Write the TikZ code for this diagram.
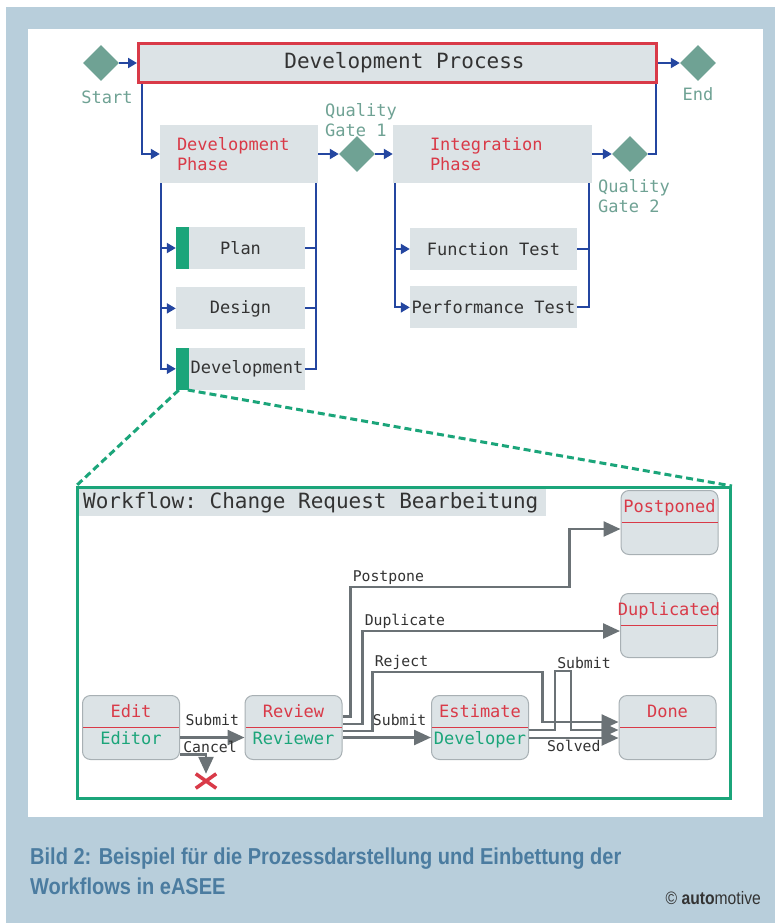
\documentclass[tikz,border=0pt]{standalone}
\usepackage{fontspec}
\setmonofont{DejaVu Sans Mono}
\newfontfamily\capfont[FakeStretch=0.87]{Liberation Sans}
\usetikzlibrary{positioning,shapes.geometric,shapes.misc,arrows.meta,calc}

\definecolor{bgblue}{HTML}{B8CEDB}
\definecolor{boxgrey}{HTML}{DCE3E6}
\definecolor{procred}{HTML}{D93A48}
\definecolor{flowblue}{HTML}{2446A0}
\definecolor{gateteal}{HTML}{6FA294}
\definecolor{bargreen}{HTML}{1BA57A}
\definecolor{wfgrey}{HTML}{6B7276}
\definecolor{stateline}{HTML}{A8B0B4}
\definecolor{textdark}{HTML}{333333}
\definecolor{captionblue}{HTML}{4B7CA0}

\begin{document}
\begin{tikzpicture}[
    x=1pt, y=-1pt,
    gate/.style={diamond, fill=gateteal, minimum width=36pt, minimum height=36pt, inner sep=0pt},
    gatelabel/.style={font=\ttfamily\fontsize{17}{20}\selectfont, text=gateteal, align=left, inner sep=0pt},
    phase/.style={fill=boxgrey, minimum height=58pt, inner xsep=17pt, text width=124pt, align=left, font=\ttfamily\fontsize{17}{20}\selectfont, text=procred},
    task/.style={fill=boxgrey, minimum width=129pt, minimum height=42pt, inner sep=0pt, font=\ttfamily\fontsize{17}{20}\selectfont, text=textdark},
    flow/.style={-{Triangle[length=9pt,width=10pt]}, flowblue, line width=2pt},
    rail/.style={flowblue, line width=2pt},
    linkdash/.style={bargreen, line width=3pt, dash pattern=on 7pt off 4pt},
    state/.style={rectangle, rounded corners=8pt, draw=stateline, fill=boxgrey, line width=1pt, minimum width=97pt, minimum height=64pt},
    stsep/.style={procred, line width=1pt},
    stname/.style={font=\ttfamily\fontsize{17}{20}\selectfont, text=procred, inner sep=0pt, text height=12pt, text depth=3.5pt},
    strole/.style={font=\ttfamily\fontsize{17}{20}\selectfont, text=bargreen, inner sep=0pt, text height=12pt, text depth=3.5pt},
    trans/.style={-{Triangle[length=17pt,width=15pt]}, wfgrey, line width=2.5pt},
    translabel/.style={font=\ttfamily\fontsize{14.8}{17}\selectfont, text=textdark, inner sep=1pt}
]
\useasboundingbox (0,0) rectangle (775,923);
\fill[bgblue] (6,7) rectangle (775,923);
\fill[white] (28,29) rectangle (763,817);

% Process level
\node[draw=procred, line width=3pt, fill=boxgrey, minimum width=518pt, minimum height=39pt,
      font=\ttfamily\fontsize{21}{25}\selectfont, text=textdark] (devproc) at (397.5,63) {\hspace*{14pt}Development Process};
\node[gate] (start) at (101,63) {};
\node[gate] (end) at (698,63) {};
\node[gatelabel, below=9pt of start, xshift=6pt] (startlbl) {Start};
\node[gatelabel, below=6pt of end] (endlbl) {End};

% Phases
\node[phase] (devphase) at (239,154) {Development\\Phase};
\node[gate] (qg1) at (357,154) {};
\node[phase, inner xsep=37pt, text width=125pt] (intphase) at (492.5,154) {Integration\\Phase};
\node[gate] (qg2) at (630,154) {};
\node[gatelabel, anchor=west] (qg1lbl) at (325,120) {Quality\\Gate 1};
\node[gatelabel, anchor=west] (qg2lbl) at (598,196) {Quality\\Gate 2};

\draw[flow] (start.east) -- (devproc.west);
\draw[flow] (devproc.east) -- (end.west);
\draw[flow] ([xshift=4.5pt]devproc.south west) |- (devphase.west);
\draw[flow] (devphase.east) -- (qg1.west);
\draw[flow] (qg1.east) -- (intphase.west);
\draw[flow] (intphase.east) -- (qg2.west);
\draw[rail] (qg2.east) -| ([xshift=-2pt]devproc.south east);

% Tasks
\node[task] (plan) at (240.5,248) {Plan};
\node[task, below=18pt of plan] (design) {Design};
\node[task, below=18pt of design] (devtask) {\hspace*{13pt}Development};
\fill[bargreen] (plan.north west) rectangle ([xshift=13pt]plan.south west);
\fill[bargreen] (devtask.north west) rectangle ([xshift=13pt]devtask.south west);

\node[task, minimum width=167pt] (functest) at (493.5,249) {Function Test};
\node[task, minimum width=167pt, below=16pt of functest] (perftest) {Performance Test};

\foreach \t in {plan,design,devtask} {
  \draw[flow] ([xshift=1pt]devphase.south west) |- (\t.west);
  \draw[rail] (\t.east) -| ([xshift=-2pt]devphase.south east);
}
\foreach \t in {functest,perftest} {
  \draw[flow] ([xshift=2pt]intphase.south west) |- (\t.west);
  \draw[rail] (\t.east) -| ([xshift=-3pt]intphase.south east);
}

% Workflow detail
\node[draw=bargreen, line width=3pt, minimum width=653pt, minimum height=311pt, inner sep=0pt] (wf) at (404,643) {};
\draw[linkdash] ([xshift=3pt]devtask.south west) -- (wf.north west);
\draw[linkdash] ([xshift=12pt]devtask.south west) -- (wf.north east);
\node[fill=boxgrey, anchor=north west, inner xsep=4pt, minimum height=27pt,
      font=\ttfamily\fontsize{21}{25}\selectfont, text=textdark] (wftitle) at ([xshift=3pt,yshift=-3pt]wf.north west) {Workflow: Change Request Bearbeitung\hspace*{4pt}};

\node[state] (edit) at (131,727.5) {};
\node[state] (review) at (293.5,727.5) {};
\node[state] (estimate) at (480,727.5) {};
\node[state] (done) at (667.5,727.5) {};
\node[state] (postponed) at (669.5,522.5) {};
\node[state] (duplicated) at (669,625.5) {};

\foreach \s/\top/\role in {edit/Edit/Editor, review/Review/Reviewer, estimate/Estimate/Developer,
                           done/Done/, postponed/Postponed/, duplicated/Duplicated/} {
  \draw[stsep] ([xshift=1pt]\s.west) -- ([xshift=-1pt]\s.east);
  \node[stname] (\s-name) at ($(\s.north)!0.55!(\s.center)$) {\top};
  \node[strole] (\s-role) at ($(\s.center)!0.4!(\s.south)$) {\role};
}

\node[cross out, draw=procred, line width=3.5pt, minimum width=17pt, minimum height=11pt, inner sep=0pt] (cancelx) at (206,781) {};

% Transitions
\draw[trans] ([yshift=-10pt]edit.east) -- node[translabel, above=10pt] {Submit} ([yshift=-10pt]review.west);
\draw[trans] ([yshift=-27pt]edit.east) -| node[translabel, pos=0.5, anchor=south, xshift=4pt] {Cancel} (cancelx.north);
\draw[trans] ([yshift=-10pt]review.east) -- node[translabel, pos=0.646, above=10pt] {Submit} ([yshift=-10pt]estimate.west);
\draw[trans] ([yshift=11pt]review.east) -- ++(8,0) -- ++(0,-129.5) node[translabel, anchor=south west] {Postpone}
    -| ([xshift=-51pt,yshift=-6.5pt]postponed.west) -- ([yshift=-6.5pt]postponed.west);
\draw[trans] ([yshift=3.5pt]review.east) -- ++(20,0) |- node[translabel, pos=0.5, anchor=south west] {Duplicate}
    ([yshift=-5.5pt]duplicated.west);
\draw[trans] ([yshift=-3.5pt]review.east) -- ++(30,0) -- ++(0,-59) node[translabel, anchor=south west] {Reject}
    -| ([xshift=-76pt,yshift=5.5pt]done.west) -- ([yshift=5.5pt]done.west);
\draw[trans] ([yshift=-2.5pt]estimate.east) -- ++(26,0) -- ++(0,-59) node[translabel, anchor=south west] {Submit}
    -- ++(16,0) |- ([yshift=-2.5pt]done.west);
\draw[trans] ([yshift=-10.5pt]estimate.east) -- node[translabel, below=0pt] {Solved} ([yshift=-10.5pt]done.west);

% Caption
\node[font=\capfont\bfseries\fontsize{23}{30}\selectfont, text=captionblue, align=left, anchor=west, inner sep=0pt] (caption)
    at (30,871) {Bild 2: Beispiel für die Prozessdarstellung und Einbettung der\\Workflows in eASEE};
\node[anchor=east, inner sep=0pt, font=\capfont\fontsize{18}{20}\selectfont, text=textdark] (credit)
    at (761,898) {© \textbf{auto}motive};

\end{tikzpicture}
\end{document}
